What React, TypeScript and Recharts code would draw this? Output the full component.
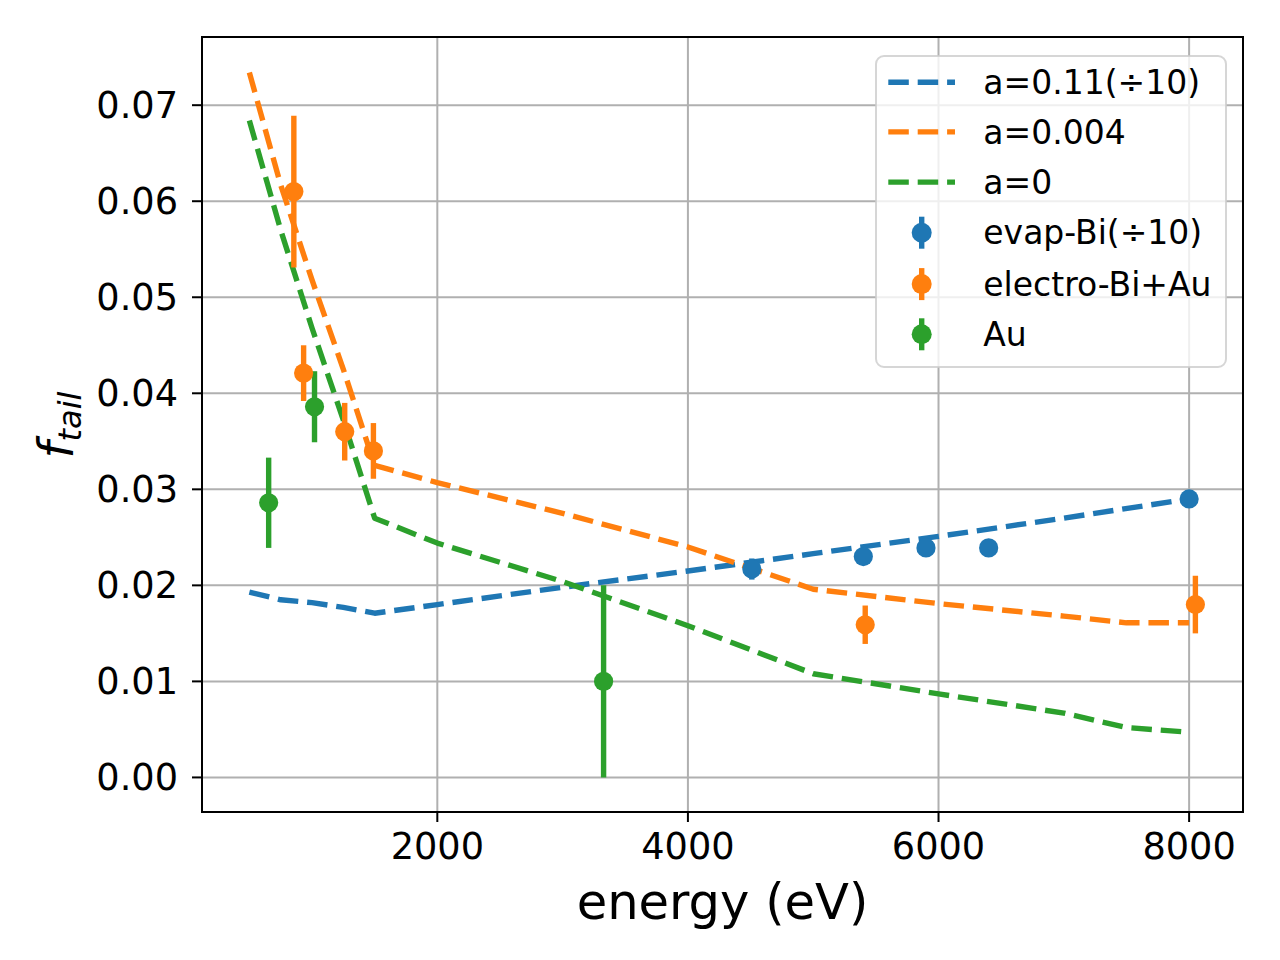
import React from 'react';
import {
  ComposedChart,
  Line,
  Scatter,
  XAxis,
  YAxis,
  CartesianGrid,
  ErrorBar,
  ReferenceArea,
  Legend,
} from 'recharts';

const BLUE = '#1f77b4';
const ORANGE = '#ff7f0e';
const GREEN = '#2ca02c';
const FONT = "'DejaVu Sans', sans-serif";
const DASH = '20.5 8.9';
const LW = 5.4;

// model curves
const blueModelEnergy = [500, 750, 1000, 1250, 1500, 2000, 3000, 4000, 5000, 6000, 7000, 8000];
const blueModelValue = [0.0193, 0.0185, 0.0182, 0.0177, 0.0171, 0.018, 0.0198, 0.0215, 0.0233, 0.0251, 0.027, 0.029];

const orangeModelEnergy = [500, 750, 1000, 1250, 1500, 2000, 3000, 4000, 5000, 6000, 7000, 7500, 8000];
const orangeModelValue = [0.0734, 0.0617, 0.0518, 0.0425, 0.0325, 0.0307, 0.0275, 0.024, 0.0196, 0.0181, 0.0168, 0.0161, 0.0161];

const greenModelEnergy = [500, 750, 1000, 1250, 1500, 2000, 3000, 4000, 5000, 6000, 7000, 7500, 8000];
const greenModelValue = [0.0684, 0.057, 0.0468, 0.0372, 0.027, 0.0244, 0.0204, 0.0158, 0.0108, 0.0087, 0.0067, 0.0052, 0.0047];

// measurements
const evapEnergy = [4510, 5400, 5900, 6400, 8000];
const evapValue = [0.0217, 0.023, 0.0239, 0.0239, 0.029];
const evapErr = [0.0011, 0.0007, 0.0004, 0.0004, 0.0004];

const electroEnergy = [855, 933, 1261, 1490, 5415, 8050];
const electroValue = [0.061, 0.0421, 0.036, 0.034, 0.0159, 0.018];
const electroErr = [0.0079, 0.0029, 0.003, 0.0029, 0.002, 0.003];

const auEnergy = [654, 1020, 3327];
const auValue = [0.0286, 0.0386, 0.01];
const auErr = [0.0047, 0.0037, 0.01];

const xTicks = [2000, 4000, 6000, 8000];
const yTicks = [0, 0.01, 0.02, 0.03, 0.04, 0.05, 0.06, 0.07];
const xDomain: [number, number] = [122, 8430];
const yDomain: [number, number] = [-0.0036, 0.0771];

const legendItems = [
  { label: 'a=0.11(÷10)', color: BLUE, kind: 'line' },
  { label: 'a=0.004', color: ORANGE, kind: 'line' },
  { label: 'a=0', color: GREEN, kind: 'line' },
  { label: 'evap-Bi(÷10)', color: BLUE, kind: 'marker' },
  { label: 'electro-Bi+Au', color: ORANGE, kind: 'marker' },
  { label: 'Au', color: GREEN, kind: 'marker' },
];

const pts = (xs: number[], ys: number[]) => xs.map((x, i) => ({ x, y: ys[i] }));
const ptsErr = (xs: number[], ys: number[], es: number[]) =>
  xs.map((x, i) => ({ x, y: ys[i], err: es[i] }));

const blueModel = pts(blueModelEnergy, blueModelValue);
const orangeModel = pts(orangeModelEnergy, orangeModelValue);
const greenModel = pts(greenModelEnergy, greenModelValue);
const evapData = ptsErr(evapEnergy, evapValue, evapErr);
const electroData = ptsErr(electroEnergy, electroValue, electroErr);
const auData = ptsErr(auEnergy, auValue, auErr);

const dotShape = (color: string) => (props: any) => (
  <circle cx={props.cx} cy={props.cy} r={9.6} fill={color} />
);

const LegendBox = () => {
  const rowY = [27.3, 76.9, 127.1, 177.7, 229.1, 279.3];
  return (
    <svg width={354} height={314} style={{ display: 'block', overflow: 'visible' }}>
      <rect
        x={1}
        y={1}
        width={350}
        height={311}
        rx={8}
        ry={8}
        fill="#ffffff"
        fillOpacity={0.8}
        stroke="#cccccc"
        strokeOpacity={0.8}
        strokeWidth={2}
      />
      {legendItems.map((it, i) => {
        const y = rowY[i];
        return (
          <g key={it.label}>
            {it.kind === 'line' ? (
              <line
                x1={13.3}
                x2={80}
                y1={y}
                y2={y}
                stroke={it.color}
                strokeWidth={LW}
                strokeDasharray={DASH}
              />
            ) : (
              <g>
                <line x1={46.7} x2={46.7} y1={y - 16} y2={y + 16} stroke={it.color} strokeWidth={LW} />
                <circle cx={46.7} cy={y} r={10} fill={it.color} />
              </g>
            )}
            <text x={108.3} y={y + 11.7} fontSize={33} fontFamily={FONT} fill="#000">
              {it.label}
            </text>
          </g>
        );
      })}
    </svg>
  );
};

const XLabel = () => (
  <text x={722.5} y={919} textAnchor="middle" fontSize={49.6} fontFamily={FONT} fill="#000">
    energy (eV)
  </text>
);

const YLabel = () => (
  <text
    x={73}
    y={425}
    transform="rotate(-90, 73, 425)"
    textAnchor="middle"
    fontFamily={FONT}
    fill="#000"
  >
    <tspan fontSize={48} fontStyle="italic">f</tspan>
    <tspan fontSize={32} fontStyle="italic" dy={8}>tail</tspan>
  </text>
);

export default function App() {
  return (
    <div style={{ position: 'absolute', left: 0, top: 0, width: 1280, height: 960, background: '#fff' }}>
      <ComposedChart
        width={1280}
        height={960}
        margin={{ top: 37, right: 37, bottom: 0, left: 0 }}
      >
        <CartesianGrid stroke="#b0b0b0" strokeWidth={2} />
        <XAxis
          dataKey="x"
          type="number"
          domain={xDomain}
          allowDataOverflow
          ticks={xTicks}
          height={148}
          tickSize={10}
          tickMargin={11}
          axisLine={{ stroke: '#000', strokeWidth: 2 }}
          tickLine={{ stroke: '#000', strokeWidth: 2 }}
          tick={{ fontSize: 36.7, fontFamily: FONT, fill: '#000' }}
          label={<XLabel />}
        />
        <YAxis
          type="number"
          domain={yDomain}
          allowDataOverflow
          ticks={yTicks}
          width={202}
          tickSize={10}
          tickMargin={14}
          tickFormatter={(v: number) => v.toFixed(2)}
          axisLine={{ stroke: '#000', strokeWidth: 2 }}
          tickLine={{ stroke: '#000', strokeWidth: 2 }}
          tick={{ fontSize: 36.7, fontFamily: FONT, fill: '#000' }}
          label={<YLabel />}
        />
        <Line
          data={blueModel}
          dataKey="y"
          type="linear"
          stroke={BLUE}
          strokeWidth={LW}
          strokeDasharray={DASH}
          strokeLinejoin="round"
          dot={false}
          activeDot={false}
          isAnimationActive={false}
          legendType="none"
        />
        <Line
          data={orangeModel}
          dataKey="y"
          type="linear"
          stroke={ORANGE}
          strokeWidth={LW}
          strokeDasharray={DASH}
          strokeLinejoin="round"
          dot={false}
          activeDot={false}
          isAnimationActive={false}
          legendType="none"
        />
        <Line
          data={greenModel}
          dataKey="y"
          type="linear"
          stroke={GREEN}
          strokeWidth={LW}
          strokeDasharray={DASH}
          strokeLinejoin="round"
          dot={false}
          activeDot={false}
          isAnimationActive={false}
          legendType="none"
        />
        <Scatter data={evapData} dataKey="y" shape={dotShape(BLUE)} isAnimationActive={false} legendType="none">
          <ErrorBar dataKey="err" direction="y" width={0} stroke={BLUE} strokeWidth={LW} />
        </Scatter>
        <Scatter data={electroData} dataKey="y" shape={dotShape(ORANGE)} isAnimationActive={false} legendType="none">
          <ErrorBar dataKey="err" direction="y" width={0} stroke={ORANGE} strokeWidth={LW} />
        </Scatter>
        <Scatter data={auData} dataKey="y" shape={dotShape(GREEN)} isAnimationActive={false} legendType="none">
          <ErrorBar dataKey="err" direction="y" width={0} stroke={GREEN} strokeWidth={LW} />
        </Scatter>
        <ReferenceArea
          x1={xDomain[0]}
          x2={xDomain[1]}
          y1={yDomain[0]}
          y2={yDomain[1]}
          fill="none"
          fillOpacity={0}
          stroke="#000"
          strokeWidth={2}
          ifOverflow="visible"
        />
        <Legend
          layout="horizontal"
          align="center"
          verticalAlign="middle"
          content={() => <LegendBox />}
          wrapperStyle={{ position: 'absolute', left: 875, top: 55, width: 354, height: 314 }}
        />
      </ComposedChart>
    </div>
  );
}
